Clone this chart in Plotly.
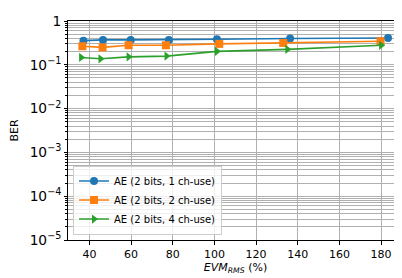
import plotly.graph_objects as go

evm_1ch = [37.1, 46.5, 59.8, 78.1, 101.2, 136.3, 183.3]
ber_1ch = [0.356, 0.37, 0.37, 0.37, 0.384, 0.40, 0.41]
evm_2ch = [36.6, 46.3, 58.8, 76.7, 102.3, 133.0, 179.7]
ber_2ch = [0.265, 0.25, 0.28, 0.279, 0.30, 0.315, 0.345]
evm_4ch = [36.0, 45.3, 58.8, 77.0, 101.2, 135.0, 180.0]
ber_4ch = [0.147, 0.137, 0.152, 0.158, 0.203, 0.225, 0.279]

names = ["AE (2 bits, 1 ch-use)", "AE (2 bits, 2 ch-use)", "AE (2 bits, 4 ch-use)"]
colors = ["#1f77b4", "#ff7f0e", "#2ca02c"]
symbols = ["circle", "square", "triangle-right"]

xtickvals = [40, 60, 80, 100, 120, 140, 160, 180]

fig = go.Figure()
for xs, ys, name, c, s in zip([evm_1ch, evm_2ch, evm_4ch], [ber_1ch, ber_2ch, ber_4ch], names, colors, symbols):
    fig.add_trace(go.Scatter(x=xs, y=ys, name=name, mode="lines+markers",
                             line=dict(color=c, width=1.6),
                             marker=dict(symbol=s, size=8, color=c)))

fig.update_layout(
    width=402, height=278,
    margin=dict(l=60, r=7, t=13, b=46, autoexpand=False),
    plot_bgcolor="white", paper_bgcolor="white",
    font=dict(family="DejaVu Sans", size=11, color="black"),
    showlegend=True,
    legend=dict(x=0.015, y=0.025, xanchor="left", yanchor="bottom",
                bgcolor="rgba(255,255,255,0.8)", bordercolor="#cccccc", borderwidth=1,
                font=dict(size=10), tracegroupgap=0),
)
fig.update_xaxes(range=[29.7, 190.5], tickvals=xtickvals, ticks="outside", ticklen=3.5,
                 tickcolor="black", showline=True, linecolor="black", linewidth=1, mirror=True,
                 showgrid=True, gridcolor="#b0b0b0", gridwidth=0.8, zeroline=False,
                 automargin=False,
                 title=dict(text="<i>EVM</i><sub><i>RMS</i></sub> (%)", standoff=3, font=dict(size=11)),
                 tickfont=dict(size=11))
fig.update_yaxes(type="log", range=[-5, 0], tickmode="linear", tick0=0, dtick=1,
                 exponentformat="power", showexponent="all",
                 ticks="outside", ticklen=3.5, tickcolor="black",
                 showline=True, linecolor="black", linewidth=1, mirror=True,
                 showgrid=True, gridcolor="#b0b0b0", gridwidth=0.8, zeroline=False,
                 automargin=False,
                 minor=dict(dtick="D1", showgrid=True, gridcolor="#b0b0b0", gridwidth=0.8,
                            ticks="outside", ticklen=2, tickcolor="black"),
                 title=dict(text="BER", standoff=9, font=dict(size=11)),
                 tickfont=dict(size=11))

fig.write_html("out.html")
